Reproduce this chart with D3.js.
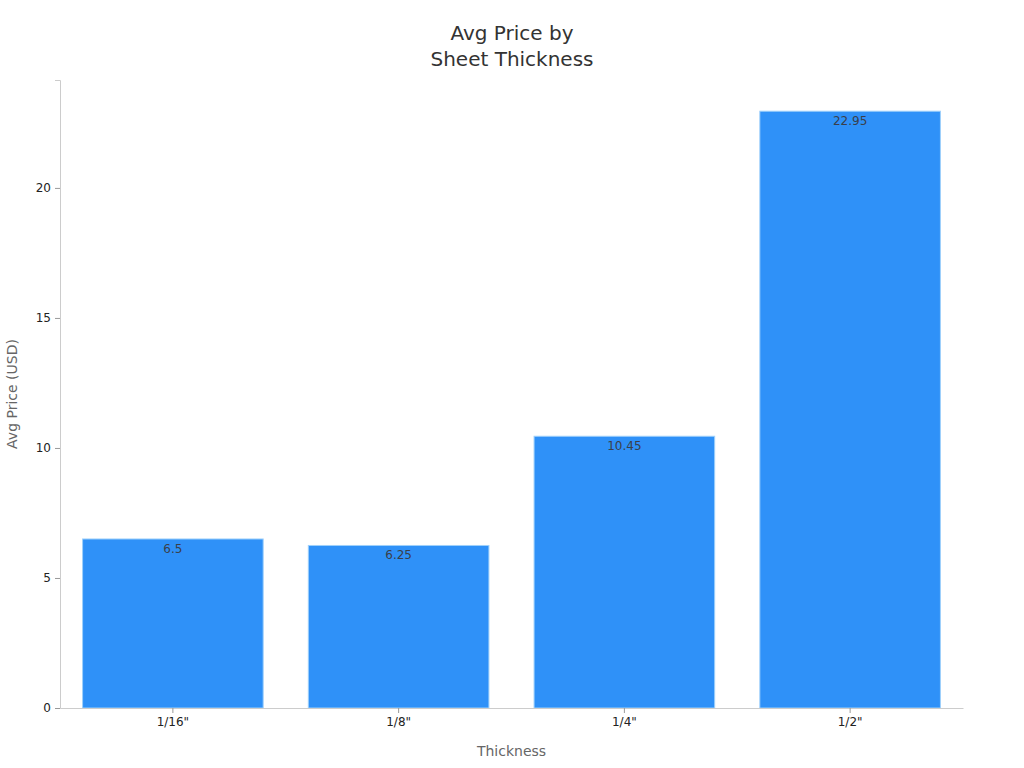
<!DOCTYPE html>
<html>
<head>
<meta charset="utf-8">
<script src="https://cdn.jsdelivr.net/npm/d3@7"></script>
<style>
  body { margin: 0; background: #fff; }
  text { font-family: "DejaVu Sans", sans-serif; }
</style>
</head>
<body>
<div id="plot"></div>
<script>
// chart data
const categories = ['1/16"', '1/8"', '1/4"', '1/2"'];
const prices = [6.5, 6.25, 10.45, 22.95];
const yTicks = [0, 5, 10, 15, 20];

const width = 1024, height = 768;
const margin = { top: 80, right: 61, bottom: 60, left: 60 };
const innerWidth = width - margin.left - margin.right;
const innerHeight = height - margin.top - margin.bottom;

const svg = d3.select("#plot").append("svg")
    .attr("width", width)
    .attr("height", height);

const g = svg.append("g")
    .attr("transform", `translate(${margin.left},${margin.top})`);

const x = d3.scaleBand()
    .domain(categories)
    .range([0, innerWidth])
    .paddingInner(0.2)
    .paddingOuter(0.1);

const y = d3.scaleLinear()
    .domain([0, Math.ceil(d3.max(prices)) * 1.05])
    .range([innerHeight, 0]);

// bars
g.selectAll(".bar")
    .data(prices)
    .enter()
    .append("rect")
    .attr("class", "bar")
    .attr("x", (d, i) => x(categories[i]))
    .attr("y", d => y(d))
    .attr("width", x.bandwidth())
    .attr("height", d => innerHeight - y(d))
    .attr("fill", "#2f91f8")
    .attr("stroke", "#9fd0fb")
    .attr("stroke-width", 1);

// value labels
g.selectAll(".value-label")
    .data(prices)
    .enter()
    .append("text")
    .attr("class", "value-label")
    .attr("x", (d, i) => x(categories[i]) + x.bandwidth() / 2)
    .attr("y", d => y(d) + 14)
    .attr("text-anchor", "middle")
    .attr("font-size", 12)
    .attr("fill", "#3a3f4a")
    .text(d => d);

// y axis
const yAxis = g.append("g")
    .attr("font-size", 12)
    .attr("font-family", "DejaVu Sans, sans-serif")
    .call(d3.axisLeft(y).tickValues(yTicks).tickSize(5).tickPadding(4));
yAxis.attr("font-size", 12).attr("font-family", "DejaVu Sans, sans-serif");
yAxis.select(".domain").attr("stroke", "#cccccc");
yAxis.selectAll(".tick line").attr("stroke", "#999999");
yAxis.selectAll(".tick text").attr("fill", "#222");

// x axis
const xAxis = g.append("g")
    .attr("transform", `translate(0,${innerHeight})`)
    .call(d3.axisBottom(x).tickSize(5).tickPadding(4).tickSizeOuter(0));
xAxis.attr("font-size", 12).attr("font-family", "DejaVu Sans, sans-serif");
xAxis.select(".domain").attr("stroke", "#cccccc");
xAxis.selectAll(".tick line").attr("stroke", "#999999");
xAxis.selectAll(".tick text").attr("fill", "#222");

// axis titles
svg.append("text")
    .attr("x", margin.left + innerWidth / 2)
    .attr("y", 756)
    .attr("text-anchor", "middle")
    .attr("font-size", 14)
    .attr("fill", "#666")
    .text("Thickness");

svg.append("text")
    .attr("transform", `translate(17,${margin.top + innerHeight / 2}) rotate(-90)`)
    .attr("text-anchor", "middle")
    .attr("font-size", 14)
    .attr("fill", "#666")
    .text("Avg Price (USD)");

// title
const title = svg.append("text")
    .attr("x", width / 2)
    .attr("text-anchor", "middle")
    .attr("font-size", 20)
    .attr("fill", "#333");
title.append("tspan").attr("x", width / 2).attr("y", 40).text("Avg Price by");
title.append("tspan").attr("x", width / 2).attr("y", 66).text("Sheet Thickness");
</script>
</body>
</html>
